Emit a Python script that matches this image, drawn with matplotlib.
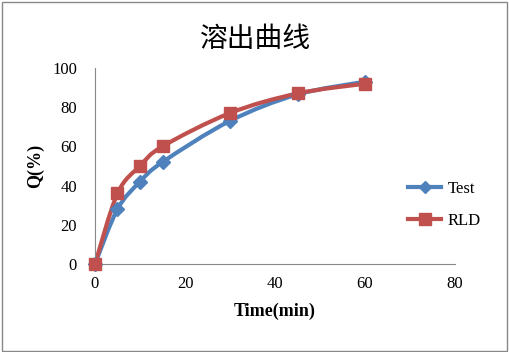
import matplotlib.pyplot as plt
from matplotlib.path import Path
from matplotlib.patches import PathPatch, Rectangle
from matplotlib.lines import Line2D

# Data
time_min = [0, 5, 10, 15, 30, 45, 60]
test_q = [0, 28, 42, 52, 73, 86.5, 93]
rld_q = [0, 36, 50, 60, 77, 87, 92]

blue = "#4F81BD"
red = "#C0504D"
serif = ["Liberation Serif", "DejaVu Serif"]


def smooth_path(xs, ys):
    # Catmull-Rom style Bezier, similar to Excel's smoothed lines
    verts = [(xs[0], ys[0])]
    codes = [Path.MOVETO]
    n = len(xs)
    for i in range(n - 1):
        x0, y0 = (xs[i - 1], ys[i - 1]) if i > 0 else (xs[i], ys[i])
        x1, y1 = xs[i], ys[i]
        x2, y2 = xs[i + 1], ys[i + 1]
        x3, y3 = (xs[i + 2], ys[i + 2]) if i + 2 < n else (x2, y2)
        c1 = (x1 + (x2 - x0) / 6, y1 + (y2 - y0) / 6)
        c2 = (x2 - (x3 - x1) / 6, y2 - (y3 - y1) / 6)
        verts += [c1, c2, (x2, y2)]
        codes += [Path.CURVE4] * 3
    return Path(verts, codes)


fig = plt.figure(figsize=(5.1, 3.52), dpi=100)
fig.patches.append(Rectangle((0.003, 0.004), 0.992, 0.99, transform=fig.transFigure,
                             fill=False, edgecolor="#888888", linewidth=1))

ax = fig.add_axes([95 / 510, 88 / 352, 360 / 510, 196 / 352])

for ys, color, marker, ms in [(test_q, blue, "D", 7), (rld_q, red, "s", 9)]:
    ax.add_patch(PathPatch(smooth_path(time_min, ys), facecolor="none",
                           edgecolor=color, linewidth=3, zorder=2))
    ax.plot(time_min, ys, linestyle="none", marker=marker, markersize=ms,
            color=color, zorder=3, clip_on=False)

ax.set_xlim(0, 80)
ax.set_ylim(0, 100)
ax.set_xticks(range(0, 81, 20))
ax.set_yticks(range(0, 101, 20))
for s in ["top", "right"]:
    ax.spines[s].set_visible(False)
for s in ["left", "bottom"]:
    ax.spines[s].set_color("#888888")
ax.tick_params(length=0, labelsize=12)
ax.tick_params(axis="y", pad=13)
ax.tick_params(axis="x", pad=9)
for lbl in ax.get_xticklabels() + ax.get_yticklabels():
    lbl.set_family(serif)

ax.set_xlabel("Time(min)", family=serif, fontsize=13, fontweight="bold", labelpad=7)
ax.set_ylabel("Q(%)", family=serif, fontsize=13, fontweight="bold", labelpad=6)

fig.text(0.5, 0.888, "溶出曲线", ha="center", va="center", fontsize=20,
         family=["Noto Sans CJK SC", "DejaVu Sans"])

handles = [Line2D([], [], color=blue, linewidth=3, marker="D", markersize=6),
           Line2D([], [], color=red, linewidth=3, marker="s", markersize=8)]
fig.legend(handles, ["Test", "RLD"], loc="center left", bbox_to_anchor=(0.8, 0.418),
           frameon=False, prop={"family": serif, "size": 12}, handlelength=2.0,
           labelspacing=0.95, handletextpad=0.4, borderpad=0, borderaxespad=0)

fig.savefig("out.png", dpi=100)
